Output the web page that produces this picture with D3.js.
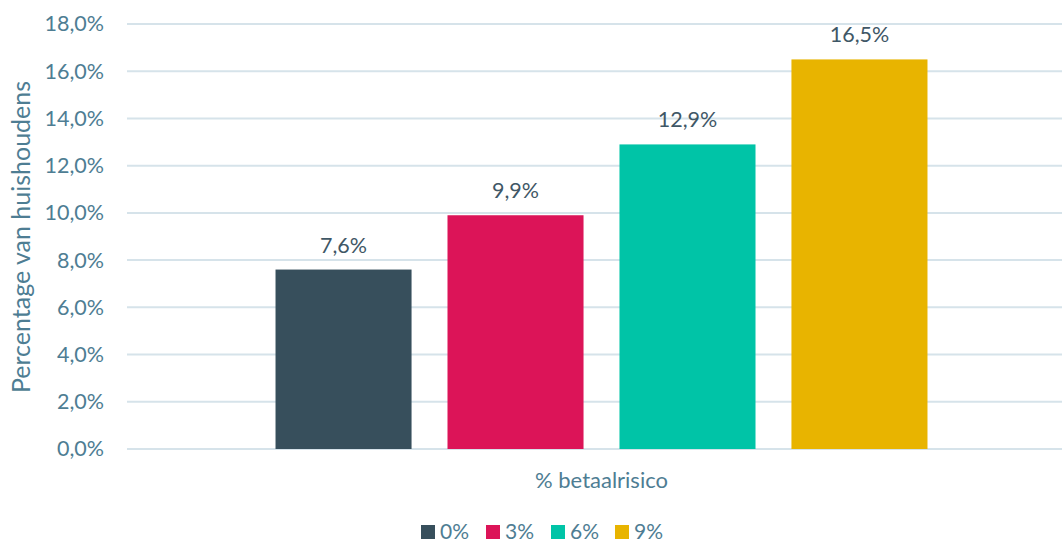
<!DOCTYPE html>
<html>
<head>
<meta charset="utf-8">
<script src="https://cdn.jsdelivr.net/npm/d3@7"></script>
<style>
  body { margin: 0; background: #fff; }
  svg { font-family: Lato, "Open Sans", sans-serif; }
</style>
</head>
<body>
<svg id="chart" width="1062" height="542"></svg>
<script>
const category = "% betaalrisico";
const series = ["0%", "3%", "6%", "9%"];
const values = [7.6, 9.9, 12.9, 16.5];
const colors = ["#374f5c", "#dc1458", "#00c4a7", "#e8b400"];
const yTicks = [0, 2, 4, 6, 8, 10, 12, 14, 16, 18];

const svg = d3.select("#chart");
// plot area runs a bit past the right edge of the picture (clipped)
const plotLeft = 127, plotRight = 1076, plotTop = 24, plotBottom = 449;

const fmt = v => d3.format(".1f")(v).replace(".", ",") + "%";

const y = d3.scaleLinear().domain([0, 18]).range([plotBottom, plotTop]);
const x0 = d3.scaleBand().domain([category]).range([plotLeft, plotRight]).paddingInner(0).paddingOuter(0.2278);
const x1 = d3.scaleBand().domain(series).range([0, x0.bandwidth()]).paddingInner(0.209).paddingOuter(0);

// gridlines
svg.append("g")
  .selectAll("line")
  .data(yTicks)
  .join("line")
  .attr("x1", plotLeft).attr("x2", plotRight)
  .attr("y1", d => y(d)).attr("y2", d => y(d))
  .attr("stroke", "#d6e3ea")
  .attr("stroke-width", 2);

// y axis labels
const yAxis = svg.append("g")
  .attr("transform", "translate(" + plotLeft + ",0)")
  .call(d3.axisLeft(y).tickValues(yTicks).tickFormat(fmt).tickSize(0).tickPadding(23));
yAxis.select(".domain").remove();
yAxis.selectAll("text")
  .style("font-size", "21.5px")
  .style("font-family", "Lato, sans-serif")
  .attr("fill", "#4e7d93");

// bars
const g = svg.append("g").attr("transform", "translate(" + x0(category) + ",0)");
g.selectAll("rect")
  .data(values)
  .join("rect")
  .attr("x", (d, i) => x1(series[i]))
  .attr("y", d => y(d))
  .attr("width", x1.bandwidth())
  .attr("height", d => plotBottom - y(d))
  .attr("fill", (d, i) => colors[i]);

// data labels
g.selectAll("text")
  .data(values)
  .join("text")
  .attr("x", (d, i) => x1(series[i]) + x1.bandwidth() / 2)
  .attr("y", d => y(d) - 17)
  .attr("text-anchor", "middle")
  .style("font-size", "21.5px")
  .attr("fill", "#3f5766")
  .text(fmt);

// x axis label
svg.append("text")
  .attr("x", x0(category) + x0.bandwidth() / 2)
  .attr("y", 488)
  .attr("text-anchor", "middle")
  .style("font-size", "22px")
  .attr("fill", "#4e7d93")
  .text(category);

// y axis title
svg.append("text")
  .attr("transform", "translate(30,237) rotate(-90)")
  .attr("text-anchor", "middle")
  .style("font-size", "25px")
  .attr("fill", "#4e7d93")
  .text("Percentage van huishoudens");

// legend
const legendX = [421, 486, 551, 615];
const legend = svg.append("g")
  .selectAll("g")
  .data(series)
  .join("g")
  .attr("transform", (d, i) => "translate(" + legendX[i] + ",525)");
legend.append("rect")
  .attr("width", 14).attr("height", 14)
  .attr("fill", (d, i) => colors[i]);
legend.append("text")
  .attr("x", 19).attr("y", 14)
  .style("font-size", "21px")
  .attr("fill", "#4e7d93")
  .text(d => d);
</script>
</body>
</html>
